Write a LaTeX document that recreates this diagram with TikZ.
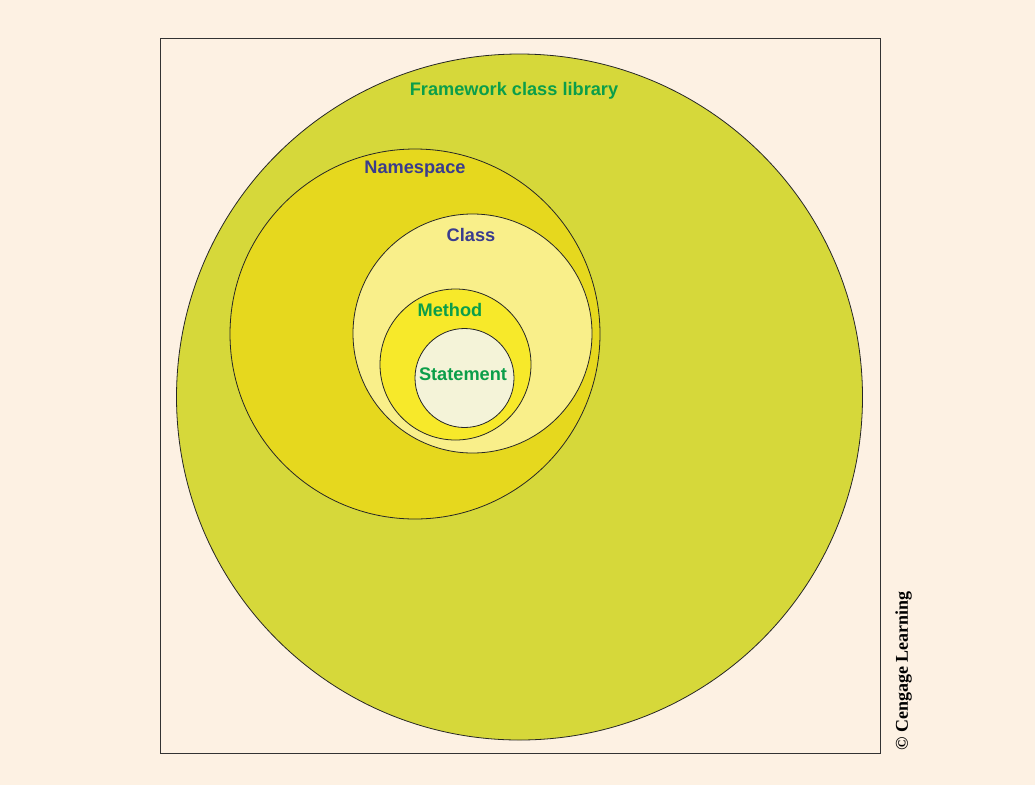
\documentclass[tikz,border=0pt]{standalone}
\usepackage{fontspec}
\setmainfont{Liberation Serif}
\setsansfont{Liberation Sans}
\begin{document}
\begin{tikzpicture}[x=1pt,y=-1pt,
  ring/.style={draw=black!85, line width=0.8pt},
  greenlabel/.style={font=\sffamily\bfseries\fontsize{18.2}{21}\selectfont, text=labelgreen, inner sep=0pt},
  bluelabel/.style={font=\sffamily\bfseries\fontsize{18.2}{21}\selectfont, text=labelblue, inner sep=0pt}]
\definecolor{paper}{HTML}{FDF1E3}
\definecolor{fcl}{HTML}{D6D83A}
\definecolor{nsfill}{HTML}{E6D81E}
\definecolor{clsfill}{HTML}{F9EF8A}
\definecolor{methfill}{HTML}{F7E92A}
\definecolor{stmtfill}{HTML}{F4F3D8}
\definecolor{labelgreen}{HTML}{0B9E4A}
\definecolor{labelblue}{HTML}{3A3C8E}
% page and frame
\fill[paper] (0,0) rectangle (1035,785);
\useasboundingbox (0,0) rectangle (1035,785);
\draw[black!80, line width=1pt] (160,38) rectangle (880,753);
% nested circles, outermost first
\fill[fcl, ring] (519.5,397) circle (343);
\fill[nsfill, ring] (415,334) circle (185);
\fill[clsfill, ring] (472.5,333.5) circle (119.5);
\fill[methfill, ring] (455.5,364.5) circle (75.5);
\fill[stmtfill, ring] (464.5,378) circle (49.5);
% labels
\node[greenlabel] (fcllbl) at (514,91) {Framework class library};
\node[bluelabel] (nslbl) at (415,169.5) {Namespace};
\node[bluelabel] (clslbl) at (471,234.5) {Class};
\node[greenlabel] (methlbl) at (450,310) {Method};
\node[greenlabel] (stmtlbl) at (463,374) {Statement};
% credit line
\node[rotate=90, font=\bfseries\fontsize{18}{20}\selectfont, inner sep=0pt] (credit) at (903.5,671) {\textcopyright{} Cengage Learning};
\end{tikzpicture}
\end{document}
